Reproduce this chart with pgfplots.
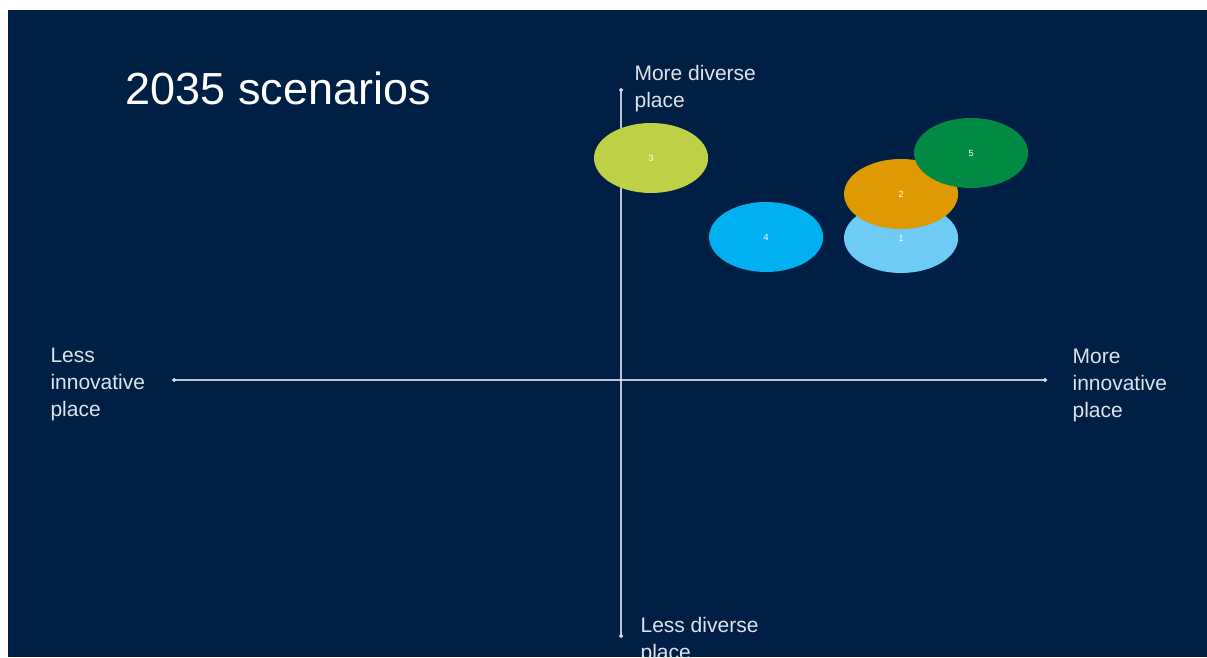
\documentclass[border=0pt]{standalone}
\usepackage{pgfplots}
\pgfplotsset{compat=1.18}
\usepackage{fontspec}
\setmainfont{Liberation Sans}
\usetikzlibrary{arrows.meta}
\definecolor{navy}{RGB}{0,31,68}
\definecolor{lbl}{RGB}{222,226,234}
\definecolor{cthree}{RGB}{189,208,70}
\definecolor{cfour}{RGB}{0,176,240}
\definecolor{cone}{RGB}{109,203,245}
\definecolor{ctwo}{RGB}{222,154,0}
\definecolor{cfive}{RGB}{0,138,67}
\begin{document}
\begin{tikzpicture}
\fill[white] (0,0) rectangle (1207pt,657pt);
\fill[navy] (8pt,0pt) rectangle (1207pt,647pt);
\begin{axis}[
  at={(8pt,0pt)}, anchor=south west,
  width=1199pt, height=647pt, scale only axis,
  xmin=-613, xmax=586, ymin=-277, ymax=370,
  axis line style={draw=none}, xtick=\empty, ytick=\empty,
  clip=false,
  every node near coord/.style={anchor=center, text=white, font=\fontsize{9}{9}\selectfont},
  bub/.style={only marks, draw=none, mark=*, mark size=35pt,
    point meta=explicit symbolic, nodes near coords},
]
% scenarios: x = innovation, y = diversity
\addplot[bub, fill=cthree, mark options={draw=none, draw opacity=0, fill=cthree, xscale=1.63}] coordinates {(30,222) [3]};
\addplot[bub, fill=cfour, mark options={draw=none, draw opacity=0, fill=cfour, xscale=1.63}] coordinates {(145,143) [4]};
\addplot[bub, fill=cone, mark options={draw=none, draw opacity=0, fill=cone, xscale=1.63}] coordinates {(280,142) [1]};
\addplot[bub, fill=ctwo, mark options={draw=none, draw opacity=0, fill=ctwo, xscale=1.63}] coordinates {(280,186) [2]};
\addplot[bub, fill=cfive, mark options={draw=none, draw opacity=0, fill=cfive, xscale=1.63}] coordinates {(350,227) [5]};
% axes
\addplot[draw=lbl, draw opacity=0.85, line width=1.2pt, {Circle[length=4pt]}-{Circle[length=4pt]}] coordinates {(-449,0) (426,0)};
\addplot[draw=lbl, draw opacity=0.85, line width=1.2pt, {Circle[length=4pt]}-{Circle[length=4pt]}] coordinates {(0,292) (0,-258)};
% texts
\node[anchor=base west, text=white, font=\fontsize{45}{54}\selectfont] at (axis cs:-499,275) {2035 scenarios};
\begin{scope}[every node/.style={anchor=base west, text=lbl, font=\fontsize{21}{25}\selectfont}]
\node at (axis cs:10,299) {More diverse};
\node at (axis cs:10,272) {place};
\node at (axis cs:-574,18) {Less};
\node at (axis cs:-574,-9) {innovative};
\node at (axis cs:-574,-36) {place};
\node at (axis cs:448,17) {More};
\node at (axis cs:448,-10) {innovative};
\node at (axis cs:448,-37) {place};
\node at (axis cs:16,-252) {Less diverse};
\node at (axis cs:16,-279) {place};
\end{scope}
\end{axis}
\pgfresetboundingbox
\path[use as bounding box] (0,0) rectangle (1207pt,657pt);
\end{tikzpicture}
\end{document}
